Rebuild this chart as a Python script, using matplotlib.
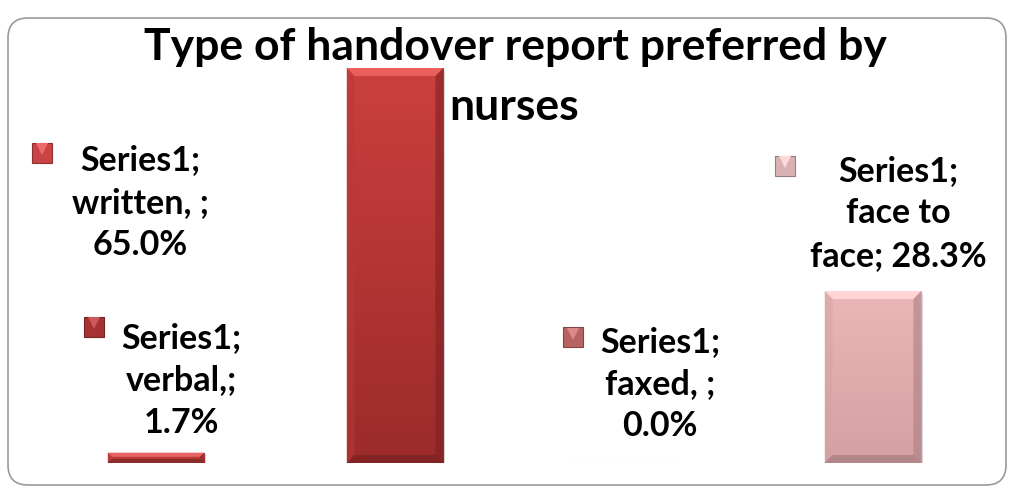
#!/usr/bin/env python3
# Type of handover report preferred by nurses - bar chart with bevelled bars

import matplotlib
matplotlib.use("Agg")
import matplotlib.pyplot as plt
import numpy as np
from matplotlib.patches import FancyBboxPatch, Polygon, Rectangle
from matplotlib.colors import to_rgb

categories = ["verbal,", "written, ", "faxed, ", "face to face"]
values = [1.7, 65.0, 0.0, 28.3]
series_name = "Series1"
label_texts = [
    "Series1;\nverbal,;\n1.7%",
    "Series1;\nwritten, ;\n65.0%",
    "Series1;\nfaxed, ;\n0.0%",
    "Series1;\nface to\nface; 28.3%",
]
title = "Type of handover report preferred by\nnurses"

# colours (top, bottom) per point
top_colors = ["#c94645", "#cb403d", "#c06a6a", "#ebb6b6"]
bot_colors = ["#a83232", "#9c2b2b", "#a85555", "#d6a0a2"]
marker_colors = ["#a53333", "#c94444", "#b86363", "#d9b3b3"]

# label / legend-key positions (data coords)
label_pos = [(0.105, 13.6), (-0.067, 42.8), (2.109, 13.0), (3.104, 41.1)]
key_pos = [(-0.259, 22.4), (-0.477, 51.0), (1.745, 20.7), (2.632, 48.9)]

W, H = 1012, 488
fig = plt.figure(figsize=(W / 100, H / 100), dpi=100)

# background axes in pixel units for the rounded frame
bg = fig.add_axes([0, 0, 1, 1], zorder=0)
bg.set_xlim(0, W)
bg.set_ylim(0, H)
bg.axis("off")
frame = FancyBboxPatch((8 + 20, 3 + 20), 998 - 40, 467 - 40,
                       boxstyle="round,pad=20", fc="white", ec="#9a9a9a", lw=1.2)
bg.add_patch(frame)

# title (two lines as in the original wrap)
t1, t2 = title.split("\n")
bg.text(515, H - 47, t1, ha="center", va="center", fontsize=32,
        fontweight="bold", family="Lato")
bg.text(514, H - 107, t2, ha="center", va="center", fontsize=32,
        fontweight="bold", family="Lato")

ax = fig.add_axes([36.5 / W, 25 / H, 956 / W, 395 / H], zorder=1)
ax.patch.set_alpha(0)
x = np.arange(len(categories))
bw = 0.405
bars = ax.bar(x, values, width=bw, color=top_colors, zorder=2)

bx = 8 / 239.0
by_full = 8 * 65 / 395.0
for i, b in enumerate(bars):
    h = b.get_height()
    if h <= 0:
        # faint baseline for zero bar
        ax.plot([b.get_x() - 0.1, b.get_x() + bw], [0, 0], color="#f0f0f0", lw=1, zorder=1)
        continue
    x0, x1 = b.get_x(), b.get_x() + bw
    # shadow
    ax.add_patch(Rectangle((x0 + 0.006, -0.25), bw, h, fc="#bbbbbb", ec="none",
                           alpha=0.6, zorder=1))
    # vertical gradient
    c1 = np.array(to_rgb(top_colors[i]))
    c2 = np.array(to_rgb(bot_colors[i]))
    t = np.linspace(0, 1, 64)[:, None]
    grad = (c1 * (1 - t) + c2 * t)[:, None, :]
    im = ax.imshow(grad, extent=(x0, x1, 0, h), aspect="auto", origin="upper",
                   zorder=3, interpolation="bilinear")
    im.set_clip_path(b)
    by = min(by_full, h / 2.5)
    bxx = bx if h >= 5 else bx * 0.6
    light = np.clip(c1 + 0.12, 0, 1)
    dark = c2 * 0.8
    side = c1 * 0.9
    ax.add_patch(Polygon([(x0, h), (x1, h), (x1 - bxx, h - by), (x0 + bxx, h - by)],
                         closed=True, fc=light, ec="none", zorder=4))
    ax.add_patch(Polygon([(x1, h), (x1, 0), (x1 - bxx, by), (x1 - bxx, h - by)],
                         closed=True, fc=dark, ec="none", alpha=0.6, zorder=4))
    ax.add_patch(Polygon([(x0, h), (x0, 0), (x0 + bxx, by), (x0 + bxx, h - by)],
                         closed=True, fc=side, ec="none", alpha=0.5, zorder=4))
    ax.add_patch(Polygon([(x0, 0), (x1, 0), (x1 - bxx, by), (x0 + bxx, by)],
                         closed=True, fc=dark, ec="none", alpha=0.8, zorder=4))

# data labels with legend keys
for i in range(len(categories)):
    lx, ly = label_pos[i]
    ax.text(lx, ly, label_texts[i], ha="center", va="center", fontsize=24.5,
            fontweight="bold", family="Lato", linespacing=1.4, zorder=5)
    kx, ky = key_pos[i]
    ax.plot(kx, ky, marker="s", markersize=14, color=marker_colors[i],
            markeredgecolor=np.array(to_rgb(marker_colors[i])) * 0.7,
            markeredgewidth=0.8, zorder=5, clip_on=False)
    ax.plot(kx, ky + 0.6, marker="v", markersize=8,
            color=np.clip(np.array(to_rgb(marker_colors[i])) + 0.15, 0, 1),
            markeredgewidth=0, zorder=6, clip_on=False)

ax.set_xlim(-0.5, len(categories) - 0.5)
ax.set_ylim(0, 65)
ax.axis("off")

fig.savefig("out.png", dpi=100)
